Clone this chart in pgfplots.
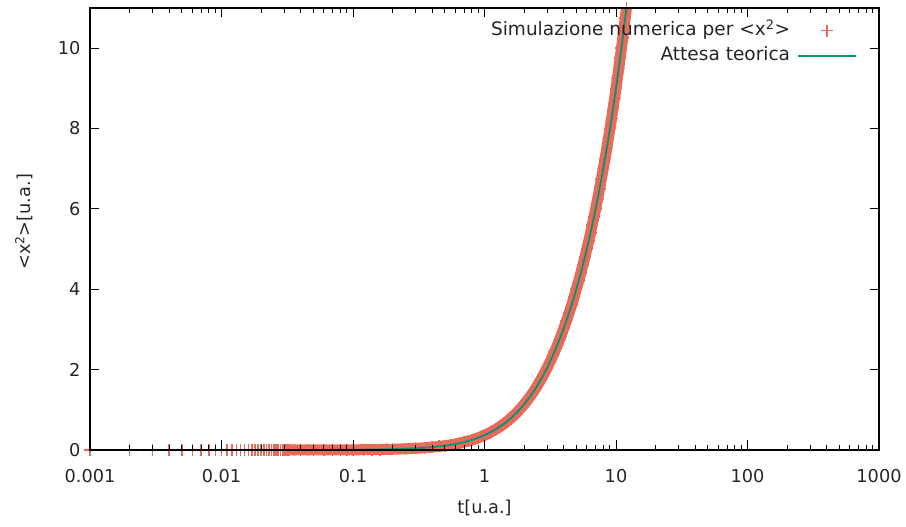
\documentclass[border=0pt]{standalone}
\usepackage{fontspec}
\setmainfont{DejaVu Sans}
\usepackage{pgfplots}
\usepackage{pgfplotstable}
\pgfplotsset{compat=1.18}

\definecolor{simred}{RGB}{232,106,90}
\definecolor{teogreen}{RGB}{0,150,115}

% legend under the curves, ticks and frame over them
\pgfplotsset{
  layers/legendbelow/.define layer set={
    axis background, axis grid, axis descriptions, pre main, main,
    axis ticks, axis lines, axis tick labels, axis foreground
  }{},
  markslegend/.style={legend image code/.code={\draw[##1, mark repeat=2, mark phase=2]
    plot coordinates {(0bp,0bp) (29bp,0bp) (58bp,0bp)};}},
  linelegend/.style={legend image code/.code={\draw[##1] (0bp,0bp) -- (58bp,0bp);}},
}

% single simulated points, resolved one by one (t = 0.001 ... 0.032)
\pgfplotstableread{
t y
0.001 0.0000005
0.002 0.000002
0.003 0.0000045
0.004 0.000008
0.005 0.0000125
0.006 0.000018
0.007 0.0000245
0.008 0.000032
0.009 0.0000405
0.010 0.00005
0.011 0.0000605
0.012 0.000072
0.013 0.0000845
0.014 0.000098
0.015 0.0001125
0.016 0.000128
0.017 0.0001445
0.018 0.000162
0.019 0.0001805
0.020 0.0002
0.021 0.0002205
0.022 0.000242
0.023 0.0002645
0.024 0.000288
0.025 0.0003125
0.026 0.000338
0.027 0.0003645
0.028 0.000392
0.029 0.0004205
0.030 0.00045
0.031 0.0004805
0.032 0.000512
}\simsparse

% simulated points where they merge into a continuous band
\pgfplotstableread{
t y
0.033 0.000538
0.036 0.000640
0.040 0.000789
0.045 0.000997
0.050 0.001229
0.060 0.001764
0.070 0.002394
0.080 0.003116
0.090 0.003931
0.10 0.004837
0.12 0.006920
0.14 0.009358
0.16 0.012144
0.18 0.015270
0.20 0.018731
0.25 0.028801
0.30 0.040818
0.35 0.054688
0.40 0.070320
0.45 0.087628
0.50 0.106531
0.55 0.126950
0.60 0.148812
0.65 0.172046
0.70 0.196585
0.75 0.222367
0.80 0.249329
0.85 0.277415
0.90 0.306570
0.95 0.336741
1.0 0.367879
1.1 0.432871
1.2 0.501194
1.3 0.572518
1.4 0.646597
1.5 0.723130
1.6 0.801897
1.7 0.882684
1.8 0.965299
1.9 1.049569
2.0 1.135335
2.1 1.222456
2.2 1.310803
2.3 1.400259
2.4 1.490718
2.5 1.582085
2.6 1.674274
2.7 1.767206
2.8 1.860810
2.9 1.955023
3.0 2.049787
3.2 2.240762
3.4 2.433373
3.6 2.627324
3.8 2.822371
4.0 3.018316
4.2 3.214996
4.4 3.412277
4.6 3.610052
4.8 3.808230
5.0 4.006738
5.2 4.205517
5.4 4.404517
5.6 4.603698
5.8 4.803028
6.0 5.002479
6.2 5.202029
6.4 5.401662
6.6 5.601360
6.8 5.801114
7.0 6.000912
7.25 6.250710
7.5 6.500553
7.75 6.750431
8.0 7.000335
8.25 7.250261
8.5 7.500203
8.75 7.750158
9.0 8.000123
9.25 8.250096
9.5 8.500075
9.75 8.750058
10.0 9.000045
10.25 9.250035
10.5 9.500028
10.75 9.750021
11.0 10.000017
11.25 10.250013
11.5 10.500010
11.75 10.750008
12.0 11.000006
}\simdense

% theoretical curve
\pgfplotstableread{
t y
0.050 0.001229
0.070 0.002394
0.10 0.004837
0.15 0.013708
0.20 0.018731
0.30 0.040818
0.40 0.070320
0.50 0.106531
0.60 0.148812
0.70 0.196585
0.80 0.249329
0.90 0.306570
1.0 0.367879
1.2 0.501194
1.4 0.646597
1.6 0.801897
1.8 0.965299
2.0 1.135335
2.25 1.355399
2.5 1.582085
2.75 1.813928
3.0 2.049787
3.5 2.530197
4.0 3.018316
4.5 3.511109
5.0 4.006738
5.5 4.504087
6.0 5.002479
6.5 5.501503
7.0 6.000912
7.5 6.500553
8.0 7.000335
8.5 7.500203
9.0 8.000123
9.5 8.500075
10.0 9.000045
10.5 9.500028
11.0 10.000017
11.5 10.500010
12.0 11.000006
}\teo

\begin{document}
\begin{tikzpicture}
\begin{axis}[
  axis on top,
  set layers=legendbelow,
  scale only axis,
  width=789bp, height=442bp,
  xmode=log,
  xmin=0.001, xmax=1000,
  ymin=0, ymax=11,
  clip=false,
  clip marker paths=true,
  xtick={0.001,0.01,0.1,1,10,100,1000},
  xticklabels={0.001,0.01,0.1,1,10,100,1000},
  minor xtick={0.002,0.003,0.004,0.005,0.006,0.007,0.008,0.009,
               0.02,0.03,0.04,0.05,0.06,0.07,0.08,0.09,
               0.2,0.3,0.4,0.5,0.6,0.7,0.8,0.9,
               2,3,4,5,6,7,8,9,
               20,30,40,50,60,70,80,90,
               200,300,400,500,600,700,800,900},
  ytick={0,2,4,6,8,10},
  tick pos=both,
  tick align=inside,
  major tick length=9.5bp,
  minor tick length=5bp,
  tick style={black, line width=1bp},
  axis line style={black, line width=1.9bp},
  /pgf/number format/assume math mode=true,
  tick label style={font=\fontsize{17.8}{21}\selectfont, text=black!85},
  xticklabel style={yshift=-16bp},
  yticklabel style={xshift=-6bp},
  label style={font=\fontsize{17.8}{21}\selectfont, text=black!85},
  xlabel={t[u.a.]},
  ylabel={<x\textsuperscript{2}>[u.a.]},
  xlabel style={at={(axis description cs:0.5,-0.132)}, anchor=center},
  ylabel style={at={(axis description cs:-0.0837,0.516)}, anchor=center},
  legend plot pos=right,
  legend cell align=right,
  legend style={
    draw=none, fill=none,
    at={(axis description cs:0.976,0.982)}, anchor=north east,
    font=\fontsize{18.6}{22}\selectfont, text=black!85,
    nodes={inner sep=4bp, text height=13.5bp, text depth=3.5bp},
    column sep=3bp,
  },
]
\addplot[simred, line width=11bp, line join=round, forget plot] table {\simdense};
\addplot[simred, only marks, mark=+, mark size=6bp,
  mark options={line width=1.5bp}, forget plot] table {\simdense};
\addplot[simred, only marks, mark=+, mark size=6bp,
  mark options={line width=1.5bp}, markslegend] table {\simsparse};
\addlegendentry{Simulazione numerica per <x\textsuperscript{2}>}
\addplot[teogreen, line width=1.8bp, linelegend] table {\teo};
\addlegendentry{Attesa teorica}
\coordinate (ll) at (rel axis cs:0,0);
\coordinate (ur) at (rel axis cs:1,1);
\end{axis}
\path ([shift={(-90bp,-77bp)}]ll) rectangle ([shift={(27bp,8bp)}]ur);
\end{tikzpicture}
\end{document}
